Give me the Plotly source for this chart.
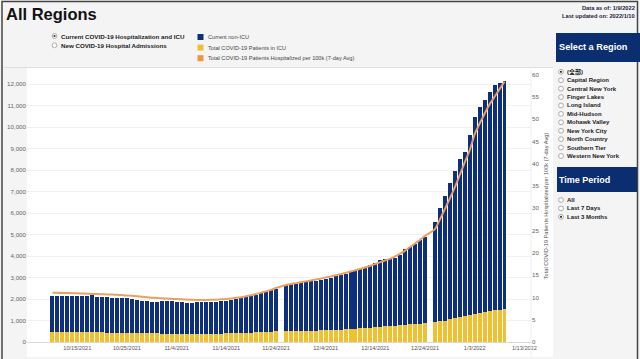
import plotly.graph_objects as go
import pandas as pd

# ---------------- data ----------------
start_date = "2021-10-10"
end_date = "2022-01-09"
missing_dates = ["2021-11-25", "2021-12-25"]

total_hospitalized = [
    2142, 2142, 2126, 2126, 2142, 2126, 2142, 2157, 2173,
    2110, 2095, 2079, 2064, 2048,
    2033, 2033, 2017,
    1955, 1924, 1893, 1862,
    1847,
    1893, 1909, 1893, 1878,
    1847, 1816, 1800,
    1847, 1862, 1862, 1847, 1862,
    1909, 1924, 1955, 1986,
    2033, 2079, 2126, 2188,
    2266, 2343, 2421, 2483,
    # 11/26 - 12/24
    2650, 2680, 2700, 2750, 2780, 2820, 2860, 2900, 2940, 2980,
    3050, 3100, 3180, 3250, 3330, 3400, 3480, 3580, 3700, 3800,
    3850, 3880, 3900, 4050, 4330, 4440, 4560, 4750, 4900,
    # 12/26 - 1/9
    5573, 6224, 6811, 7418, 7975, 8520, 8845, 9622, 10489, 10955,
    11266, 11639, 11950, 12080, 12130,
]

icu_patients = [
    465, 465, 462, 460, 458, 456, 455, 452, 450, 448, 445, 440, 438, 435, 430,
    425, 420, 415, 410, 405, 400, 398, 395, 392, 390, 388, 385, 383, 382, 380,
    382, 385, 388, 390, 395, 400, 405, 410, 420, 428, 435, 445, 455, 465, 475, 490,
    500, 505, 510, 515, 520, 525, 530, 540, 550, 560, 570, 580, 595, 610, 625,
    640, 655, 670, 690, 710, 730, 750, 765, 780, 800, 815, 830, 850, 870,
    920, 960, 1000, 1050, 1100, 1150, 1200, 1250, 1300, 1350, 1400, 1440, 1480, 1510, 1540,
]

per_100k_7day = [
    11.05, 11.02, 11.0, 10.98, 10.95, 10.92, 10.88, 10.83, 10.78, 10.75, 10.72,
    10.68, 10.63, 10.58, 10.52, 10.45, 10.35, 10.25, 10.15, 10.05, 9.95, 9.88,
    9.8, 9.74, 9.68, 9.62, 9.57, 9.52, 9.47, 9.44, 9.42, 9.42, 9.45, 9.5, 9.57,
    9.66, 9.77, 9.9, 10.05, 10.25, 10.5, 10.75, 11.05, 11.35, 11.7, 12.1,
    12.8, 13.0, 13.2, 13.4, 13.6, 13.8, 14.0, 14.2, 14.45, 14.7, 14.95, 15.2,
    15.5, 15.8, 16.1, 16.4, 16.75, 17.1, 17.5, 17.9, 18.3, 18.7, 19.2, 19.8,
    20.5, 21.3, 22.1, 22.9, 23.8,
    25.3, 27.5, 29.8, 32.2, 34.7, 37.5, 40.3, 43.0, 46.6, 49.0, 51.2, 53.3,
    55.0, 56.7, 58.4,
]

x_tickvals = ["2021-10-15", "2021-10-25", "2021-11-04", "2021-11-14", "2021-11-24",
              "2021-12-04", "2021-12-14", "2021-12-24", "2022-01-03", "2022-01-13"]
x_ticktext = ["10/15/2021", "10/25/2021", "11/4/2021", "11/14/2021", "11/24/2021",
              "12/4/2021", "12/14/2021", "12/24/2021", "1/3/2022", "1/13/2022"]
left_tickvals = [0, 1000, 2000, 3000, 4000, 5000, 6000, 7000, 8000, 9000, 10000, 11000, 12000]
right_tickvals = [0, 5, 10, 15, 20, 25, 30, 35, 40, 45, 50, 55, 60]

series_names = ["Current non-ICU", "Total COVID-19 Patients in ICU",
                "Total COVID-19 Patients Hospitalized per 100k (7-day Avg)"]
metric_options = ["Current COVID-19 Hospitalization and ICU", "New COVID-19 Hospital Admissions"]
region_options = ["(全部)", "Capital Region", "Central New York", "Finger Lakes", "Long Island",
                  "Mid-Hudson", "Mohawk Valley", "New York City", "North Country",
                  "Southern Tier", "Western New York"]
time_options = ["All", "Last 7 Days", "Last 3 Months"]

# ---------------- build ----------------
dates = [d for d in pd.date_range(start_date, end_date, freq="D")
         if d.strftime("%Y-%m-%d") not in missing_dates]
non_icu = [t - i for t, i in zip(total_hospitalized, icu_patients)]

NAVY = "#0d2f7c"
YELLOW = "#efc032"
ORANGE = "#f0953c"
LINE = "#e9a060"
FONT = "Liberation Sans, Arial, Noto Sans CJK SC, sans-serif"

W, H = 640, 359
L, R, T, B = 27, 109, 70, 17
PW, PH = W - L - R, H - T - B


def px(x):
    return (x - L) / PW


def py(y):
    return (H - B - y) / PH


DAY = 86400000
fig = go.Figure()
fig.add_trace(go.Bar(x=dates, y=icu_patients, name=series_names[1], marker_color=YELLOW,
                     marker_line_width=0, width=DAY * 0.8))
fig.add_trace(go.Bar(x=dates, y=non_icu, name=series_names[0], marker_color=NAVY,
                     marker_line_width=0, width=DAY * 0.8))
fig.add_trace(go.Scatter(x=dates, y=per_100k_7day, name=series_names[2], mode="lines",
                         line=dict(color=LINE, width=2, shape="spline", smoothing=0.6),
                         yaxis="y2"))

shapes = []
annotations = []

# white chart body
shapes.append(dict(type="rect", xref="paper", yref="paper", x0=px(27), x1=px(553),
                   y0=py(357), y1=py(68), fillcolor="white", line_width=0, layer="below"))
# separator line under header
shapes.append(dict(type="line", xref="paper", yref="paper", x0=px(4), x1=px(553),
                   y0=py(67.5), y1=py(67.5), line=dict(color="#dddddd", width=1)))
# outer frame
shapes.append(dict(type="rect", xref="paper", yref="paper", x0=px(2), x1=px(637.5),
                   y0=py(362), y1=py(1.5), line=dict(color="#444444", width=1.5)))
# plot right edge
shapes.append(dict(type="line", xref="paper", yref="paper", x0=px(531), x1=px(531),
                   y0=py(357), y1=py(70), line=dict(color="#eeeeee", width=1)))


def radio(cx, cy, selected):
    r = 2.4
    shapes.append(dict(type="circle", xref="paper", yref="paper",
                       x0=px(cx - r), x1=px(cx + r), y0=py(cy + r), y1=py(cy - r),
                       line=dict(color="#999999", width=0.8), fillcolor="white"))
    if selected:
        r2 = 1.1
        shapes.append(dict(type="circle", xref="paper", yref="paper",
                           x0=px(cx - r2), x1=px(cx + r2), y0=py(cy + r2), y1=py(cy - r2),
                           line_width=0, fillcolor="#333333"))


def text(x, y, s, size, color="#222222", bold=False, xanchor="left"):
    annotations.append(dict(xref="paper", yref="paper", x=px(x), y=py(y), text=("<b>%s</b>" % s) if bold else s,
                            showarrow=False, xanchor=xanchor, yanchor="middle",
                            font=dict(family=FONT, size=size, color=color)))


# title & header
text(4, 14, "All Regions", 16.5, "#111111", bold=True)
text(637, 8, "Data as of: 1/9/2022", 5.7, "#1b2340", bold=True, xanchor="right")
text(637, 16.5, "Last updated on: 2022/1/10", 5.7, "#1b2340", bold=True, xanchor="right")

# metric radio
for i, s in enumerate(metric_options):
    cy = 36 + i * 9.3
    radio(54.5, cy, i == 0)
    text(59, cy, s, 6.2, "#222222", bold=True)

# legend
leg_colors = [NAVY, YELLOW, ORANGE]
for i, (s, c) in enumerate(zip(series_names, leg_colors)):
    cy = 37 + i * 10.6
    shapes.append(dict(type="rect", xref="paper", yref="paper", x0=px(197.5), x1=px(203.5),
                       y0=py(cy + 3), y1=py(cy - 3), fillcolor=c, line_width=0))
    text(205.5, cy, s, 5.6, "#444444")

# right panel
shapes.append(dict(type="rect", xref="paper", yref="paper", x0=px(556), x1=px(641),
                   y0=py(62), y1=py(33), fillcolor="#0b2e70", line_width=0))
text(556.5, 47.5, "Select a Region", 9.2, "white", bold=True)
for i, s in enumerate(region_options):
    cy = 71.8 + i * 8.42
    radio(561, cy, i == 0)
    text(565, cy, s, 6.0, "#222222", bold=True)

shapes.append(dict(type="rect", xref="paper", yref="paper", x0=px(557), x1=px(637),
                   y0=py(192), y1=py(167), fillcolor="#0b2e70", line_width=0))
text(557, 180, "Time Period", 9.0, "white", bold=True)
for i, s in enumerate(time_options):
    cy = 200 + i * 8.4
    radio(561, cy, i == 2)
    text(565, cy, s, 6.0, "#222222", bold=True)

fig.update_layout(
    width=W, height=H,
    margin=dict(l=L, r=R, t=T, b=B, pad=0, autoexpand=False),
    paper_bgcolor="#f4f4f4",
    plot_bgcolor="white",
    barmode="stack",
    bargap=0,
    showlegend=False,
    shapes=shapes,
    annotations=annotations,
    font=dict(family=FONT, size=6, color="#666666"),
    xaxis=dict(type="date", range=["2021-10-04 21:00", "2022-01-14 08:00"],
               tickvals=x_tickvals, ticktext=x_ticktext, showgrid=False,
               tickfont=dict(size=5.6, color="#555555"), ticks="", ticklen=0,
               showline=True, linecolor="#d9d9d9", linewidth=1, zeroline=False,
               fixedrange=True, automargin=False),
    yaxis=dict(range=[0, 12663], tickvals=left_tickvals, tickformat=",d",
               showgrid=True, gridcolor="#f1f1f1", gridwidth=1, zeroline=False,
               tickfont=dict(size=6.2, color="#666666"), ticks="", showline=False,
               automargin=False),
    yaxis2=dict(range=[0, 61.0], tickvals=right_tickvals, overlaying="y", side="right",
                showgrid=False, zeroline=False, ticks="", automargin=False,
                tickfont=dict(size=6.2, color="#666666"),
                title=dict(text=series_names[2], font=dict(size=5.6, color="#555555"), standoff=5)),
)

fig.write_html("out.html", config={"displayModeBar": False},
               post_script="document.body.style.margin='0';document.body.style.overflow='hidden';")
